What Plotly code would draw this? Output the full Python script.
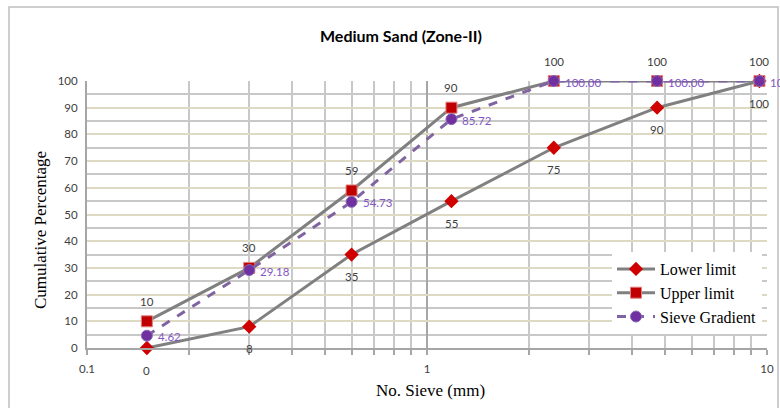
import plotly.graph_objects as go
import math

sieve_mm = [0.15, 0.3, 0.6, 1.18, 2.36, 4.75, 9.5]
lower_limit = [0, 8, 35, 55, 75, 90, 100]
upper_limit = [10, 30, 59, 90, 100, 100, 100]
sieve_gradient = [4.62, 29.18, 54.73, 85.72, 100.00, 100.00, 100.00]
y_ticks = list(range(0, 101, 10))
x_ticks = [0.1, 1, 10]
x_tick_labels = ["0.1", "1", "10"]

LINE_GRAY = "#808080"
RED = "#c00000"
PURPLE = "#7030a0"
PURPLE_LINE = "#8064a2"
PURPLE_TEXT = "#8456c4"
LABEL_FONT = "Lato"
SERIF = "Liberation Serif"

fig = go.Figure()
fig.add_trace(go.Scatter(
    x=sieve_mm, y=lower_limit, name="Lower limit", mode="lines+markers",
    line=dict(color=LINE_GRAY, width=3),
    marker=dict(symbol="diamond", size=11, color="#d00000"),
    cliponaxis=False))
fig.add_trace(go.Scatter(
    x=sieve_mm, y=upper_limit, name="Upper limit", mode="lines+markers",
    line=dict(color=LINE_GRAY, width=3),
    marker=dict(symbol="square", size=11, color=RED, line=dict(color="#e08080", width=1)),
    cliponaxis=False))
fig.add_trace(go.Scatter(
    x=sieve_mm, y=sieve_gradient, name="Sieve Gradient", mode="lines+markers",
    line=dict(color=PURPLE_LINE, width=3, dash="dash"),
    marker=dict(symbol="circle", size=11, color=PURPLE, line=dict(color="#8a6cb8", width=1)),
    cliponaxis=False))

ann = []
for x, v in zip(sieve_mm, lower_limit):
    ann.append(dict(x=math.log10(x), y=v, text=f"{v}", showarrow=False, yshift=-22,
                    font=dict(family=LABEL_FONT, size=11.5, color="#404040")))
for x, v in zip(sieve_mm, upper_limit):
    ann.append(dict(x=math.log10(x), y=v, text=f"{v}", showarrow=False, yshift=20,
                    font=dict(family=LABEL_FONT, size=11.5, color="#404040")))
for x, v in zip(sieve_mm, sieve_gradient):
    ann.append(dict(x=math.log10(x), y=v, text=f"{v:.2f}", showarrow=False, xanchor="left",
                    xshift=9, yshift=-1,
                    font=dict(family=LABEL_FONT, size=11.5, color=PURPLE_TEXT)))
# axis titles
ann.append(dict(xref="paper", yref="paper", x=(430-87)/680, y=(348-390)/267, text="No. Sieve (mm)",
                xanchor="center", yanchor="middle",
                showarrow=False, font=dict(family=SERIF, size=17, color="black")))
ann.append(dict(xref="paper", yref="paper", x=(40-87)/680, y=(348-230)/267, text="Cumulative Percentage",
                xanchor="center", yanchor="middle",
                showarrow=False, textangle=-90, font=dict(family=SERIF, size=17, color="black")))

fig.update_layout(
    width=780, height=408,
    margin=dict(l=87, r=13, t=81, b=60),
    paper_bgcolor="white", plot_bgcolor="white",
    title=dict(text="<b>Medium Sand (Zone-II)</b>", x=401/780, xanchor="center",
               y=1-36/408, yanchor="middle", font=dict(family=LABEL_FONT, size=16, color="black")),
    annotations=ann,
    showlegend=True,
    legend=dict(x=(612-87)/680, y=(348-252)/267,
                xanchor="left", yanchor="top",
                bgcolor="white", font=dict(family=SERIF, size=16, color="black"),
                tracegroupgap=0, itemwidth=38),
    xaxis=dict(type="log", range=[-1, 1], tickvals=x_ticks, ticktext=x_tick_labels,
               automargin=False,
               showgrid=True, gridcolor="#a6a6a6", gridwidth=1.5,
               ticks="outside", ticklen=5, tickcolor="#a6a6a6", tickwidth=1.5,
               ticklabelstandoff=4,
               minor=dict(dtick="D1", showgrid=True, gridcolor="#c8c8c8", gridwidth=1.5,
                          ticks="outside", ticklen=5, tickcolor="#a6a6a6"),
               showline=True, linecolor="#a6a6a6", linewidth=2, zeroline=False,
               tickfont=dict(family=LABEL_FONT, size=11.5, color="#404040")),
    yaxis=dict(range=[0, 100], tickvals=y_ticks, automargin=False,
               showgrid=True, gridcolor="#ddd9c3", gridwidth=1.5,
               minor=dict(dtick=5, showgrid=True, gridcolor="#c8c8c8", gridwidth=1.5),
               showline=True, linecolor="#a6a6a6", linewidth=2, zeroline=False,
               ticks="", ticklabelstandoff=5,
               tickfont=dict(family=LABEL_FONT, size=11.5, color="#404040")),
    shapes=[dict(type="rect", xref="paper", yref="paper",
                 x0=(9-87)/680, x1=(778-87)/680, y0=(348-412)/267, y1=(348-7)/267,
                 line=dict(color="#bfbfbf", width=1.5), fillcolor="rgba(0,0,0,0)", layer="below")],
)

fig.write_html("out.html", config={"displayModeBar": False},
               post_script="document.body.style.margin='0';document.body.style.overflow='hidden';")
